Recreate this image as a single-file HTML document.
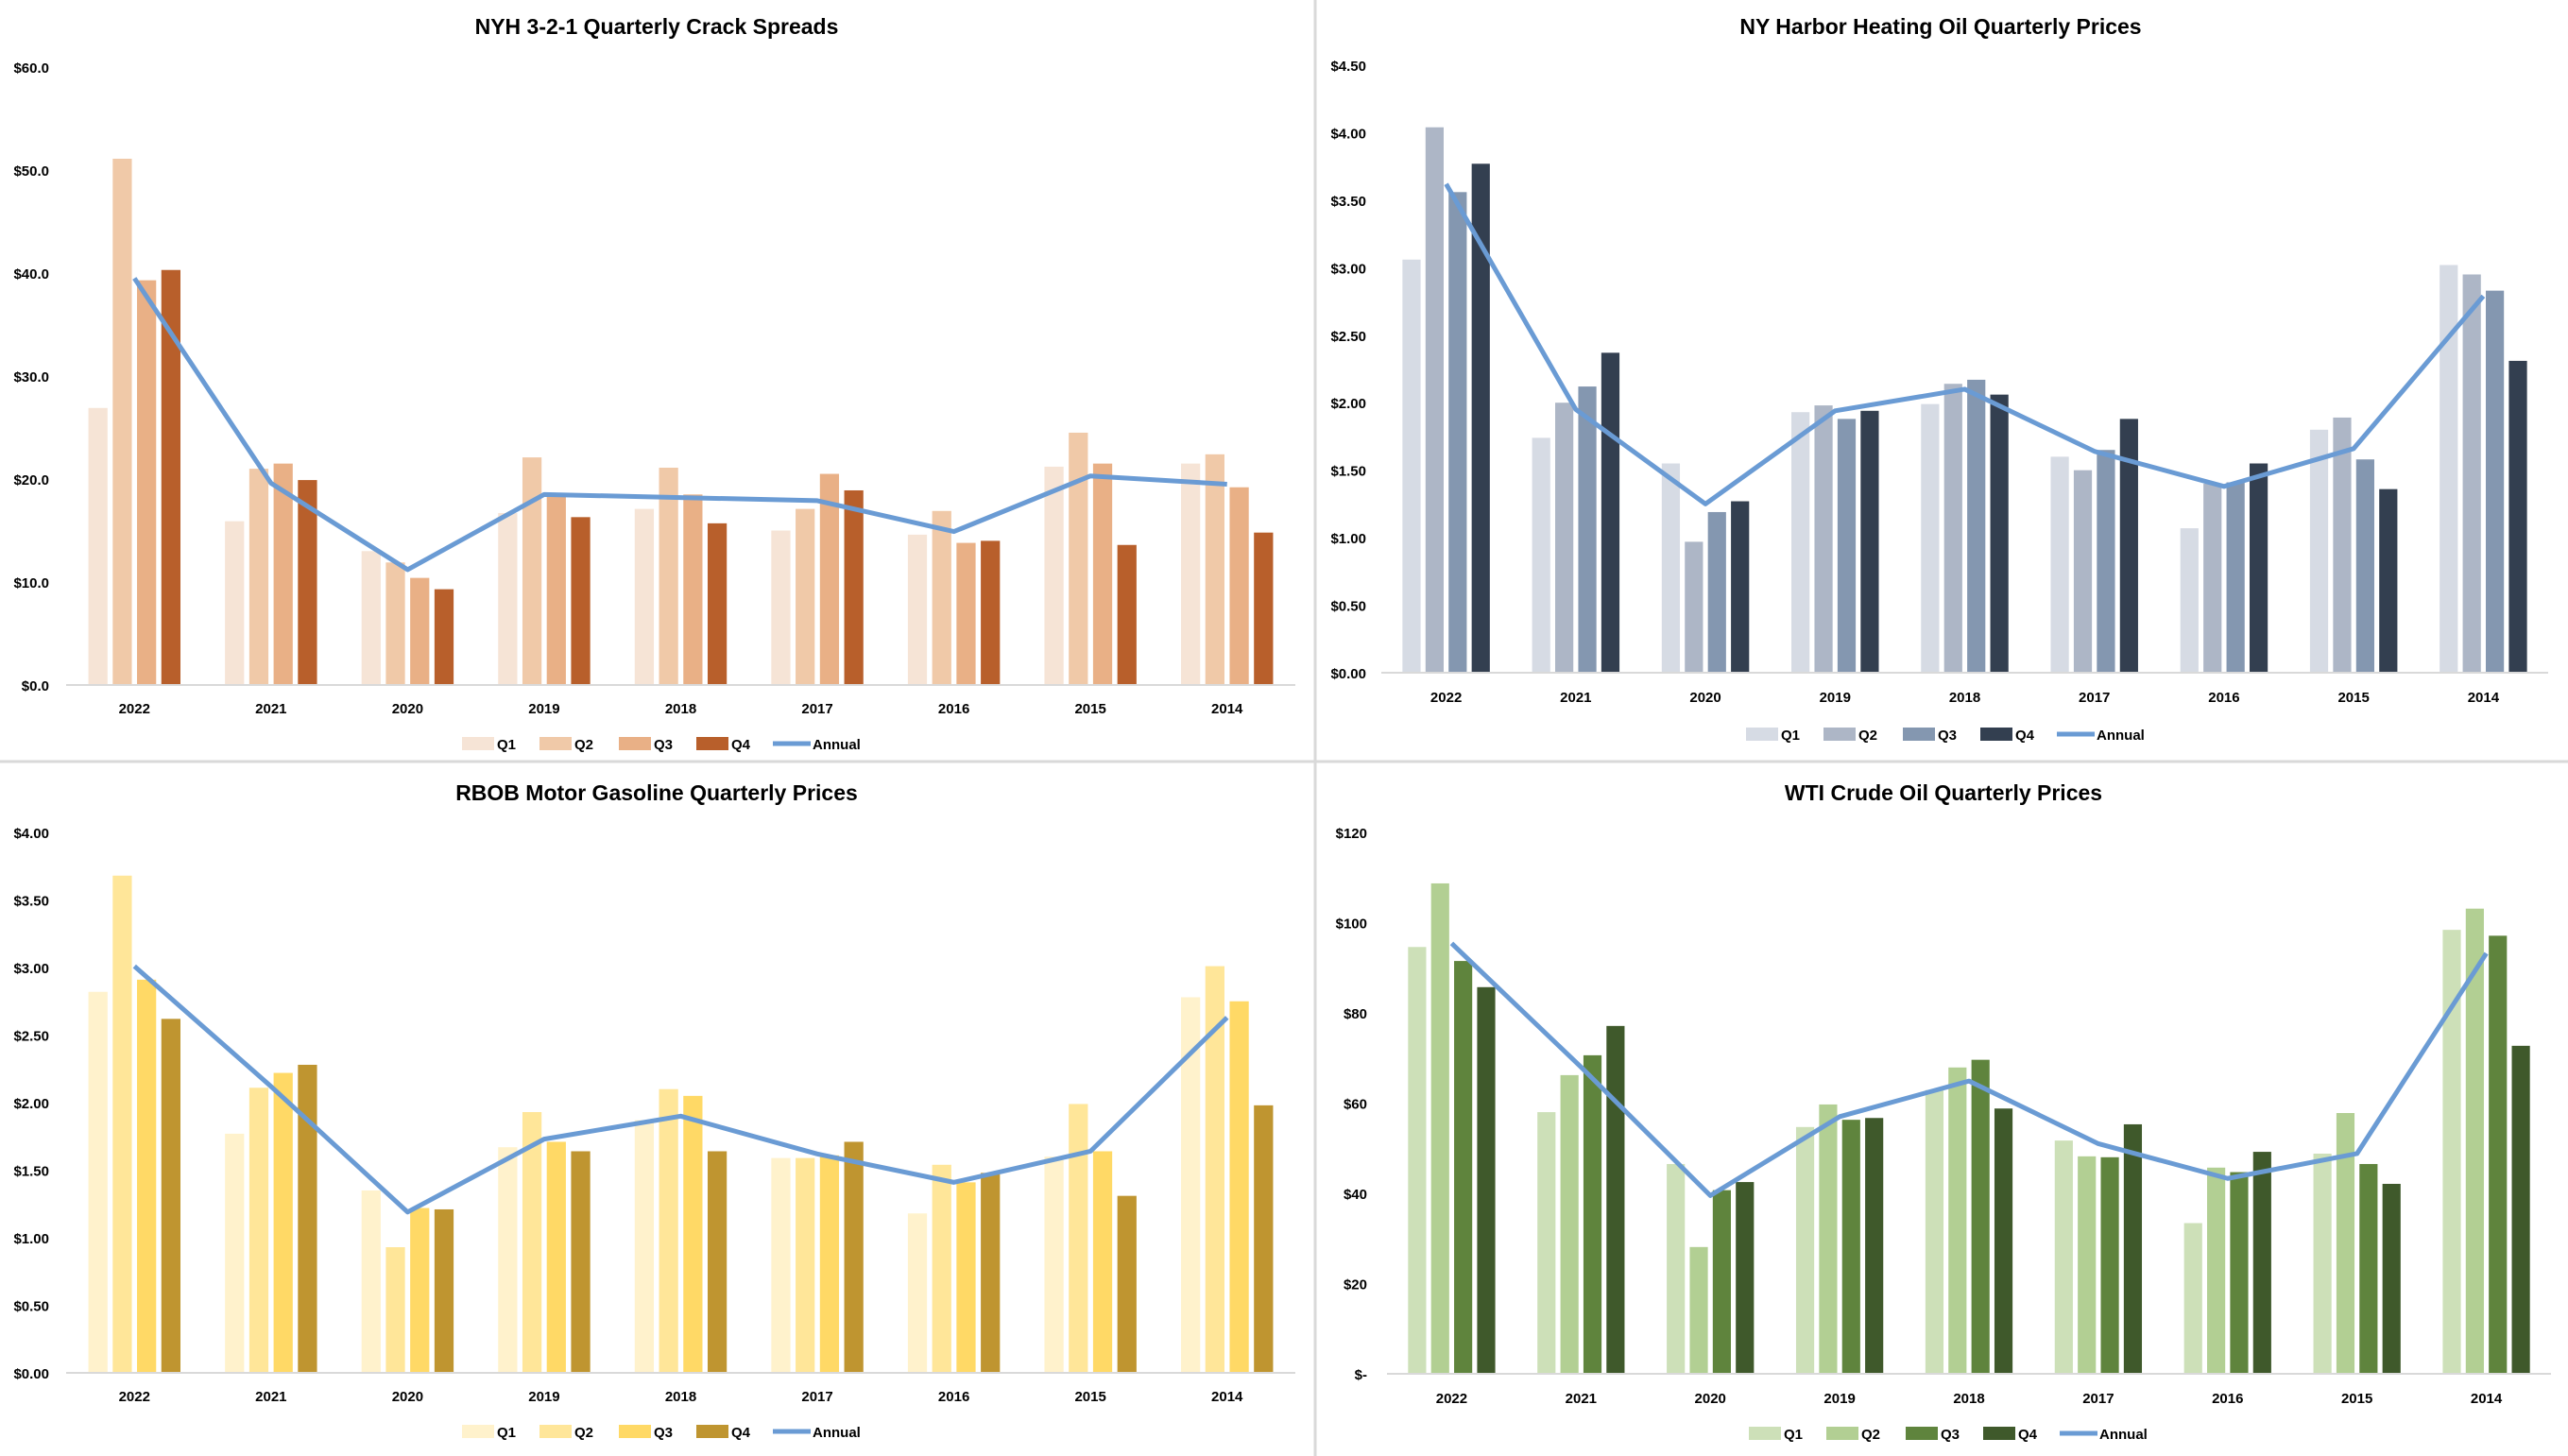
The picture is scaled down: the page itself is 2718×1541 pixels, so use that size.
<!DOCTYPE html>
<html><head><meta charset="utf-8"><style>
html,body{margin:0;padding:0;background:#fff;}
svg{display:block;font-family:"Liberation Sans",sans-serif;}
</style></head><body>
<svg id="root" width="2718" height="1541" viewBox="0 0 2718 1541" xmlns="http://www.w3.org/2000/svg">
<rect x="0" y="0" width="2718" height="1541" fill="#fff"/>
<line x1="1392" y1="0" x2="1392" y2="1541" stroke="#d9d9d9" stroke-width="3"/>
<line x1="0" y1="806" x2="2718" y2="806" stroke="#d9d9d9" stroke-width="3"/>
</svg>
<script>
const categories = ["2022","2021","2020","2019","2018","2017","2016","2015","2014"];

const crackQ1 = [26.9,15.9,13.0,16.7,17.1,15.0,14.6,21.2,21.5];
const crackQ2 = [51.1,21.0,11.9,22.1,21.1,17.1,16.9,24.5,22.4];
const crackQ3 = [39.3,21.5,10.4,18.5,18.5,20.5,13.8,21.5,19.2];
const crackQ4 = [40.3,19.9,9.3,16.3,15.7,18.9,14.0,13.6,14.8];
const crackAnnual = [39.5,19.6,11.2,18.5,18.2,17.9,14.9,20.3,19.5];
const crackTicks = ["$0.0","$10.0","$20.0","$30.0","$40.0","$50.0","$60.0"];

const hoQ1 = [3.06,1.74,1.55,1.93,1.99,1.60,1.07,1.80,3.02];
const hoQ2 = [4.04,2.00,0.97,1.98,2.14,1.50,1.40,1.89,2.95];
const hoQ3 = [3.56,2.12,1.19,1.88,2.17,1.65,1.41,1.58,2.83];
const hoQ4 = [3.77,2.37,1.27,1.94,2.06,1.88,1.55,1.36,2.31];
const hoAnnual = [3.62,1.95,1.25,1.94,2.10,1.64,1.38,1.66,2.79];
const hoTicks = ["$0.00","$0.50","$1.00","$1.50","$2.00","$2.50","$3.00","$3.50","$4.00","$4.50"];

const rbQ1 = [2.82,1.77,1.35,1.67,1.87,1.59,1.18,1.60,2.78];
const rbQ2 = [3.68,2.11,0.93,1.93,2.10,1.59,1.54,1.99,3.01];
const rbQ3 = [2.91,2.22,1.22,1.71,2.05,1.61,1.41,1.64,2.75];
const rbQ4 = [2.62,2.28,1.21,1.64,1.64,1.71,1.48,1.31,1.98];
const rbAnnual = [3.01,2.12,1.19,1.73,1.90,1.62,1.41,1.64,2.63];
const rbTicks = ["$0.00","$0.50","$1.00","$1.50","$2.00","$2.50","$3.00","$3.50","$4.00"];

const wtiQ1 = [94.6,58.0,46.5,54.7,62.9,51.7,33.4,48.8,98.4];
const wtiQ2 = [108.7,66.2,28.1,59.7,67.9,48.2,45.7,57.8,103.1];
const wtiQ3 = [91.5,70.6,40.7,56.3,69.6,48.0,44.7,46.5,97.1];
const wtiQ4 = [85.7,77.1,42.5,56.7,58.8,55.3,49.2,42.1,72.7];
const wtiAnnual = [95.4,68.0,39.5,57.0,64.9,51.0,43.3,48.8,93.2];
const wtiTicks = ["$-","$20","$40","$60","$80","$100","$120"];

const NS = "http://www.w3.org/2000/svg";
const root = document.getElementById("root");
function mk(tag, attrs, parent){const e=document.createElementNS(NS,tag);for(const k in attrs)e.setAttribute(k,attrs[k]);(parent||root).appendChild(e);return e;}

function drawChart(cfg){
  const g = mk("g",{});
  
  
  const t = mk("text",{x:cfg.cx,y:cfg.titleY,"text-anchor":"middle","font-size":23,"font-weight":"bold",fill:"#000"},g);
  t.textContent = cfg.title;
  
  
  const yScale = v => cfg.zeroY - v/cfg.max*(cfg.zeroY-cfg.topY);
  const n = categories.length;
  const cw = (cfg.right-cfg.left)/n;
  const xC = i => cfg.left + cw*(i+0.5);
  // ticks
  cfg.ticks.forEach((lab,i)=>{
    const v = cfg.max*i/(cfg.ticks.length-1);
    const tt = mk("text",{x:cfg.labelX,y:yScale(v)+6,"text-anchor":"end","font-size":15,"font-weight":"bold",fill:"#000"},g);
    tt.textContent = lab;
    
    
  });
  const series=[cfg.q1,cfg.q2,cfg.q3,cfg.q4];
  const pitch = cw*0.178, bw = cw*0.14;
  series.forEach((arr,s)=>{
    arr.forEach((v,i)=>{
      const x = xC(i) + (s-1.5)*pitch - bw/2;
      const r = mk("rect",{x:x,y:yScale(v),width:bw,height:cfg.zeroY-yScale(v),fill:cfg.colors[s]},g);
      
      
    });
  });
  const ax = mk("line",{x1:cfg.left,x2:cfg.right,y1:cfg.zeroY,y2:cfg.zeroY,stroke:"#d9d9d9","stroke-width":2},g);
  
  
  const pts = cfg.annual.map((v,i)=>xC(i)+","+yScale(v)).join(" ");
  const pl = mk("polyline",{points:pts,fill:"none",stroke:"#6a9bd4","stroke-width":5,"stroke-linejoin":"round"},g);
  
  
  categories.forEach((c,i)=>{
    const ct = mk("text",{x:xC(i),y:cfg.catY+6,"text-anchor":"middle","font-size":15,"font-weight":"bold",fill:"#000"},g);
    ct.textContent = c;
    
    
  });
  // legend
  const lg = mk("g",{},g);
  
  
  const offs=[-206,-124,-40,42];
  ["Q1","Q2","Q3","Q4"].forEach((q,s)=>{
    const sw = mk("rect",{x:cfg.cx+offs[s],y:cfg.legY-7,width:34,height:14,fill:cfg.colors[s]},lg);
    
    
    const lt = mk("text",{x:cfg.cx+offs[s]+37,y:cfg.legY+6,"font-size":15,"font-weight":"bold",fill:"#000"},lg);
    lt.textContent = q;
    
    
  });
  const ll = mk("line",{x1:cfg.cx+123,x2:cfg.cx+163,y1:cfg.legY,y2:cfg.legY,stroke:"#6a9bd4","stroke-width":5},lg);
  
  
  const la = mk("text",{x:cfg.cx+165,y:cfg.legY+6,"font-size":15,"font-weight":"bold",fill:"#000"},lg);
  la.textContent = "Annual";
  
  
}

drawChart({name:"crack-spread-chart",title:"NYH 3-2-1 Quarterly Crack Spreads",cx:695,titleY:36,left:70,right:1371,topY:71,zeroY:725,max:60,labelX:52,catY:749,legY:787,ticks:crackTicks,q1:crackQ1,q2:crackQ2,q3:crackQ3,q4:crackQ4,annual:crackAnnual,colors:["#f6e4d6","#f0c9a8","#e9b086","#b85f2b"]});
drawChart({name:"heating-oil-chart",title:"NY Harbor Heating Oil Quarterly Prices",cx:2054,titleY:36,left:1462,right:2697,topY:69,zeroY:712,max:4.5,labelX:1446,catY:737,legY:777,ticks:hoTicks,q1:hoQ1,q2:hoQ2,q3:hoQ3,q4:hoQ4,annual:hoAnnual,colors:["#d6dbe4","#adb6c6","#8497b0","#333f50"]});
drawChart({name:"rbob-gasoline-chart",title:"RBOB Motor Gasoline Quarterly Prices",cx:695,titleY:847,left:70,right:1371,topY:881,zeroY:1453,max:4,labelX:52,catY:1477,legY:1515,ticks:rbTicks,q1:rbQ1,q2:rbQ2,q3:rbQ3,q4:rbQ4,annual:rbAnnual,colors:["#fff2cc","#ffe699","#ffd966","#bf9530"]});
drawChart({name:"wti-crude-chart",title:"WTI Crude Oil Quarterly Prices",cx:2057,titleY:847,left:1468,right:2700,topY:881,zeroY:1454,max:120,labelX:1447,catY:1479,legY:1517,ticks:wtiTicks,q1:wtiQ1,q2:wtiQ2,q3:wtiQ3,q4:wtiQ4,annual:wtiAnnual,colors:["#cde0b8","#b2cf93","#5f843d","#3f592b"]});
</script>
</body></html>
